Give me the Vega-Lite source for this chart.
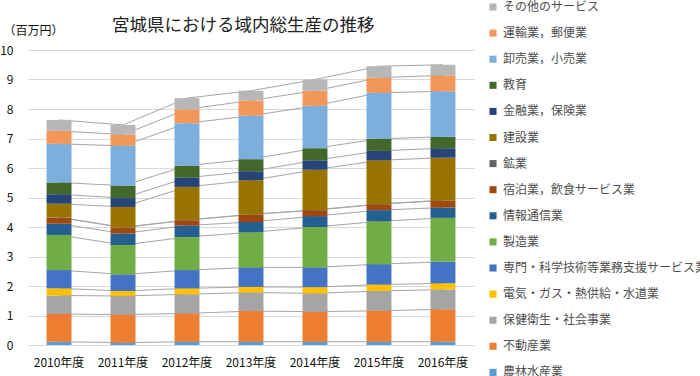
{
  "$schema": "https://vega.github.io/schema/vega-lite/v6.json",
  "width": 446,
  "height": 295,
  "autosize": "none",
  "padding": {"left": 28, "top": 50, "right": 226, "bottom": 31},
  "background": "white",
  "config": {"font": "Noto Sans CJK JP", "view": {"stroke": null}},
  "title": {"text": "宮城県における域内総生産の推移", "fontSize": 17.5, "fontWeight": "normal", "color": "#222222", "anchor": "start", "frame": "group", "dx": 84, "offset": -33},
  "datasets": {
    "gdp": [
      {"year": "2010年度", "cat": "農林水産業", "idx": 0, "value": 0.11},
      {"year": "2010年度", "cat": "不動産業", "idx": 1, "value": 0.94},
      {"year": "2010年度", "cat": "保健衛生・社会事業", "idx": 2, "value": 0.63},
      {"year": "2010年度", "cat": "電気・ガス・熱供給・水道業", "idx": 3, "value": 0.24},
      {"year": "2010年度", "cat": "専門・科学技術等業務支援サービス業", "idx": 4, "value": 0.62},
      {"year": "2010年度", "cat": "製造業", "idx": 5, "value": 1.19},
      {"year": "2010年度", "cat": "情報通信業", "idx": 6, "value": 0.38},
      {"year": "2010年度", "cat": "宿泊業，飲食サービス業", "idx": 7, "value": 0.21},
      {"year": "2010年度", "cat": "鉱業", "idx": 8, "value": 0.01},
      {"year": "2010年度", "cat": "建設業", "idx": 9, "value": 0.46},
      {"year": "2010年度", "cat": "金融業，保険業", "idx": 10, "value": 0.32},
      {"year": "2010年度", "cat": "教育", "idx": 11, "value": 0.40},
      {"year": "2010年度", "cat": "卸売業，小売業", "idx": 12, "value": 1.31},
      {"year": "2010年度", "cat": "運輸業，郵便業", "idx": 13, "value": 0.44},
      {"year": "2010年度", "cat": "その他のサービス", "idx": 14, "value": 0.37},

      {"year": "2011年度", "cat": "農林水産業", "idx": 0, "value": 0.08},
      {"year": "2011年度", "cat": "不動産業", "idx": 1, "value": 0.95},
      {"year": "2011年度", "cat": "保健衛生・社会事業", "idx": 2, "value": 0.63},
      {"year": "2011年度", "cat": "電気・ガス・熱供給・水道業", "idx": 3, "value": 0.17},
      {"year": "2011年度", "cat": "専門・科学技術等業務支援サービス業", "idx": 4, "value": 0.56},
      {"year": "2011年度", "cat": "製造業", "idx": 5, "value": 1.00},
      {"year": "2011年度", "cat": "情報通信業", "idx": 6, "value": 0.39},
      {"year": "2011年度", "cat": "宿泊業，飲食サービス業", "idx": 7, "value": 0.20},
      {"year": "2011年度", "cat": "鉱業", "idx": 8, "value": 0.01},
      {"year": "2011年度", "cat": "建設業", "idx": 9, "value": 0.69},
      {"year": "2011年度", "cat": "金融業，保険業", "idx": 10, "value": 0.30},
      {"year": "2011年度", "cat": "教育", "idx": 11, "value": 0.42},
      {"year": "2011年度", "cat": "卸売業，小売業", "idx": 12, "value": 1.35},
      {"year": "2011年度", "cat": "運輸業，郵便業", "idx": 13, "value": 0.38},
      {"year": "2011年度", "cat": "その他のサービス", "idx": 14, "value": 0.33},

      {"year": "2012年度", "cat": "農林水産業", "idx": 0, "value": 0.11},
      {"year": "2012年度", "cat": "不動産業", "idx": 1, "value": 0.96},
      {"year": "2012年度", "cat": "保健衛生・社会事業", "idx": 2, "value": 0.65},
      {"year": "2012年度", "cat": "電気・ガス・熱供給・水道業", "idx": 3, "value": 0.20},
      {"year": "2012年度", "cat": "専門・科学技術等業務支援サービス業", "idx": 4, "value": 0.62},
      {"year": "2012年度", "cat": "製造業", "idx": 5, "value": 1.12},
      {"year": "2012年度", "cat": "情報通信業", "idx": 6, "value": 0.39},
      {"year": "2012年度", "cat": "宿泊業，飲食サービス業", "idx": 7, "value": 0.18},
      {"year": "2012年度", "cat": "鉱業", "idx": 8, "value": 0.01},
      {"year": "2012年度", "cat": "建設業", "idx": 9, "value": 1.12},
      {"year": "2012年度", "cat": "金融業，保険業", "idx": 10, "value": 0.31},
      {"year": "2012年度", "cat": "教育", "idx": 11, "value": 0.41},
      {"year": "2012年度", "cat": "卸売業，小売業", "idx": 12, "value": 1.44},
      {"year": "2012年度", "cat": "運輸業，郵便業", "idx": 13, "value": 0.47},
      {"year": "2012年度", "cat": "その他のサービス", "idx": 14, "value": 0.38},

      {"year": "2013年度", "cat": "農林水産業", "idx": 0, "value": 0.11},
      {"year": "2013年度", "cat": "不動産業", "idx": 1, "value": 1.04},
      {"year": "2013年度", "cat": "保健衛生・社会事業", "idx": 2, "value": 0.63},
      {"year": "2013年度", "cat": "電気・ガス・熱供給・水道業", "idx": 3, "value": 0.19},
      {"year": "2013年度", "cat": "専門・科学技術等業務支援サービス業", "idx": 4, "value": 0.66},
      {"year": "2013年度", "cat": "製造業", "idx": 5, "value": 1.19},
      {"year": "2013年度", "cat": "情報通信業", "idx": 6, "value": 0.35},
      {"year": "2013年度", "cat": "宿泊業，飲食サービス業", "idx": 7, "value": 0.25},
      {"year": "2013年度", "cat": "鉱業", "idx": 8, "value": 0.01},
      {"year": "2013年度", "cat": "建設業", "idx": 9, "value": 1.15},
      {"year": "2013年度", "cat": "金融業，保険業", "idx": 10, "value": 0.31},
      {"year": "2013年度", "cat": "教育", "idx": 11, "value": 0.41},
      {"year": "2013年度", "cat": "卸売業，小売業", "idx": 12, "value": 1.47},
      {"year": "2013年度", "cat": "運輸業，郵便業", "idx": 13, "value": 0.52},
      {"year": "2013年度", "cat": "その他のサービス", "idx": 14, "value": 0.33},

      {"year": "2014年度", "cat": "農林水産業", "idx": 0, "value": 0.11},
      {"year": "2014年度", "cat": "不動産業", "idx": 1, "value": 1.02},
      {"year": "2014年度", "cat": "保健衛生・社会事業", "idx": 2, "value": 0.62},
      {"year": "2014年度", "cat": "電気・ガス・熱供給・水道業", "idx": 3, "value": 0.21},
      {"year": "2014年度", "cat": "専門・科学技術等業務支援サービス業", "idx": 4, "value": 0.67},
      {"year": "2014年度", "cat": "製造業", "idx": 5, "value": 1.37},
      {"year": "2014年度", "cat": "情報通信業", "idx": 6, "value": 0.37},
      {"year": "2014年度", "cat": "宿泊業，飲食サービス業", "idx": 7, "value": 0.20},
      {"year": "2014年度", "cat": "鉱業", "idx": 8, "value": 0.01},
      {"year": "2014年度", "cat": "建設業", "idx": 9, "value": 1.36},
      {"year": "2014年度", "cat": "金融業，保険業", "idx": 10, "value": 0.32},
      {"year": "2014年度", "cat": "教育", "idx": 11, "value": 0.41},
      {"year": "2014年度", "cat": "卸売業，小売業", "idx": 12, "value": 1.44},
      {"year": "2014年度", "cat": "運輸業，郵便業", "idx": 13, "value": 0.51},
      {"year": "2014年度", "cat": "その他のサービス", "idx": 14, "value": 0.38},

      {"year": "2015年度", "cat": "農林水産業", "idx": 0, "value": 0.11},
      {"year": "2015年度", "cat": "不動産業", "idx": 1, "value": 1.05},
      {"year": "2015年度", "cat": "保健衛生・社会事業", "idx": 2, "value": 0.67},
      {"year": "2015年度", "cat": "電気・ガス・熱供給・水道業", "idx": 3, "value": 0.22},
      {"year": "2015年度", "cat": "専門・科学技術等業務支援サービス業", "idx": 4, "value": 0.69},
      {"year": "2015年度", "cat": "製造業", "idx": 5, "value": 1.45},
      {"year": "2015年度", "cat": "情報通信業", "idx": 6, "value": 0.38},
      {"year": "2015年度", "cat": "宿泊業，飲食サービス業", "idx": 7, "value": 0.20},
      {"year": "2015年度", "cat": "鉱業", "idx": 8, "value": 0.01},
      {"year": "2015年度", "cat": "建設業", "idx": 9, "value": 1.48},
      {"year": "2015年度", "cat": "金融業，保険業", "idx": 10, "value": 0.32},
      {"year": "2015年度", "cat": "教育", "idx": 11, "value": 0.41},
      {"year": "2015年度", "cat": "卸売業，小売業", "idx": 12, "value": 1.56},
      {"year": "2015年度", "cat": "運輸業，郵便業", "idx": 13, "value": 0.51},
      {"year": "2015年度", "cat": "その他のサービス", "idx": 14, "value": 0.39},

      {"year": "2016年度", "cat": "農林水産業", "idx": 0, "value": 0.11},
      {"year": "2016年度", "cat": "不動産業", "idx": 1, "value": 1.10},
      {"year": "2016年度", "cat": "保健衛生・社会事業", "idx": 2, "value": 0.67},
      {"year": "2016年度", "cat": "電気・ガス・熱供給・水道業", "idx": 3, "value": 0.21},
      {"year": "2016年度", "cat": "専門・科学技術等業務支援サービス業", "idx": 4, "value": 0.73},
      {"year": "2016年度", "cat": "製造業", "idx": 5, "value": 1.49},
      {"year": "2016年度", "cat": "情報通信業", "idx": 6, "value": 0.35},
      {"year": "2016年度", "cat": "宿泊業，飲食サービス業", "idx": 7, "value": 0.24},
      {"year": "2016年度", "cat": "鉱業", "idx": 8, "value": 0.01},
      {"year": "2016年度", "cat": "建設業", "idx": 9, "value": 1.44},
      {"year": "2016年度", "cat": "金融業，保険業", "idx": 10, "value": 0.32},
      {"year": "2016年度", "cat": "教育", "idx": 11, "value": 0.39},
      {"year": "2016年度", "cat": "卸売業，小売業", "idx": 12, "value": 1.54},
      {"year": "2016年度", "cat": "運輸業，郵便業", "idx": 13, "value": 0.54},
      {"year": "2016年度", "cat": "その他のサービス", "idx": 14, "value": 0.36}
    ]
  },
  "data": {"name": "gdp"},
  "transform": [
    {"stack": "value", "groupby": ["year"], "sort": [{"field": "idx", "order": "ascending"}], "as": ["v0", "v1"]}
  ],
  "encoding": {
    "x": {
      "field": "year", "type": "nominal", "sort": null,
      "scale": {"paddingInner": 0.61, "paddingOuter": 0.29},
      "axis": {"title": null, "labelAngle": 0, "domain": false, "ticks": false, "grid": false, "labelFontSize": 12, "labelColor": "#111111", "labelPadding": 12}
    }
  },
  "layer": [
    {
      "mark": {"type": "line", "color": "#a6a6a6", "strokeWidth": 1},
      "encoding": {
        "y": {
          "field": "v1", "type": "quantitative", "scale": {"domain": [0, 10]},
          "axis": {"title": "（百万円）", "titleAngle": 0, "titleAlign": "left", "titleBaseline": "middle", "titleX": -25, "titleY": -20, "titleFontSize": 12, "titleFontWeight": "normal", "titleColor": "#111111", "values": [0, 1, 2, 3, 4, 5, 6, 7, 8, 9, 10], "labelOverlap": false, "domain": false, "ticks": false, "labelPadding": 15, "labelFontSize": 12, "labelColor": "#111111", "gridColor": "#d9d9d9"}
        },
        "detail": {"field": "cat"}
      }
    },
    {
      "mark": {"type": "bar"},
      "encoding": {
        "y": {
          "field": "v0", "type": "quantitative", "scale": {"domain": [0, 10]},
          "axis": {"title": "（百万円）", "titleAngle": 0, "titleAlign": "left", "titleBaseline": "middle", "titleX": -25, "titleY": -20, "titleFontSize": 12, "titleFontWeight": "normal", "titleColor": "#111111", "values": [0, 1, 2, 3, 4, 5, 6, 7, 8, 9, 10], "labelOverlap": false, "domain": false, "ticks": false, "labelPadding": 15, "labelFontSize": 12, "labelColor": "#111111", "gridColor": "#d9d9d9"}
        },
        "y2": {"field": "v1"},
        "color": {
          "field": "cat", "type": "nominal",
          "scale": {
            "domain": ["その他のサービス", "運輸業，郵便業", "卸売業，小売業", "教育", "金融業，保険業", "建設業", "鉱業", "宿泊業，飲食サービス業", "情報通信業", "製造業", "専門・科学技術等業務支援サービス業", "電気・ガス・熱供給・水道業", "保健衛生・社会事業", "不動産業", "農林水産業"],
            "range": ["#b7b7b7", "#f1975a", "#7cafdd", "#43682b", "#264478", "#997300", "#636363", "#9e480e", "#255e91", "#70ad47", "#4472c4", "#ffc000", "#a5a5a5", "#ed7d31", "#5b9bd5"]
          },
          "legend": {"orient": "none", "legendX": 459, "legendY": -49, "title": null, "symbolType": "square", "symbolSize": 50, "symbolStrokeWidth": 0, "labelFontSize": 12, "labelColor": "#505050", "rowPadding": 14.1, "labelLimit": 260, "labelOffset": 4}
        }
      }
    }
  ]
}
